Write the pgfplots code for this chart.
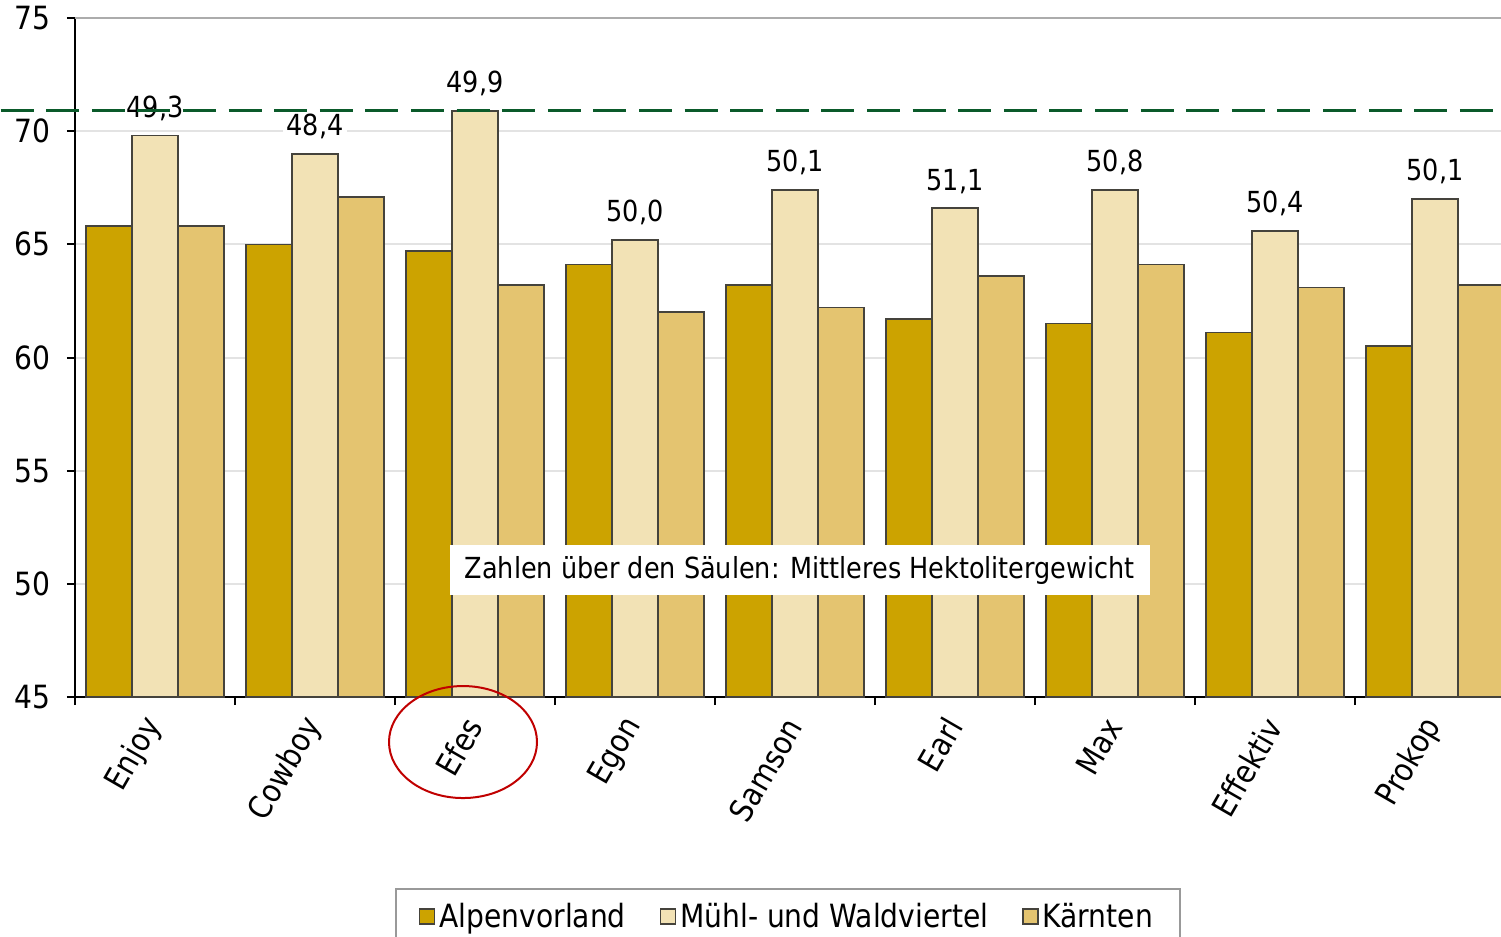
\documentclass[border=0pt]{standalone}
\usepackage{fontspec}
\setmainfont[FakeStretch=0.88]{DejaVu Sans}
\usepackage{pgfplots}
\pgfplotsset{compat=1.18}
\usepackage{pgfplotstable}

\definecolor{cA}{HTML}{CCA300}
\definecolor{cM}{HTML}{F2E2B5}
\definecolor{cK}{HTML}{E4C470}
\definecolor{edge}{HTML}{45433C}
\definecolor{dgreen}{HTML}{0A5A2A}
\definecolor{ringred}{HTML}{C00000}

\pgfplotstableread{
x A M K lab
0 65.8 69.8 65.8 49,3
1 65.0 69.0 67.1 48,4
2 64.7 70.9 63.2 49,9
3 64.1 65.2 62.0 50,0
4 63.2 67.4 62.2 50,1
5 61.7 66.6 63.6 51,1
6 61.5 67.4 64.1 50,8
7 61.1 65.6 63.1 50,4
8 60.5 67.0 63.2 50,1
}\data

\newcommand{\bigf}{\fontsize{16}{19}\selectfont}
\newcommand{\smallf}{\fontsize{14.5}{17}\selectfont}

\begin{document}
\begin{tikzpicture}
\begin{axis}[
  name=ax,
  scale only axis, width=713pt, height=339.5pt,
  xmin=-0.5, xmax=8.4125, ymin=45, ymax=75,
  ybar=0pt, bar width=23pt,
  axis x line*=bottom, axis y line*=left,
  axis line style={line width=1pt, black, -},
  /pgf/number format/assume math mode=true,
  xtick={0,...,8},
  xticklabels={Enjoy,Cowboy,Efes,Egon,Samson,Earl,Max,Effektiv,Prokop},
  minor xtick={-0.5,0.5,...,8.5},
  major x tick style={draw=none},
  minor x tick style={line width=1pt, black},
  ytick={45,50,...,70},
  extra y ticks={75},
  extra y tick style={grid style={line width=1pt, gray!65}},
  y tick style={line width=1pt, black},
  tick align=outside, major tick length=4pt, minor tick length=4pt,
  ymajorgrids, grid style={line width=1pt, gray!22},
  yticklabel style={font=\bigf, xshift=-5pt},
  xticklabel style={font=\bigf, rotate=60, anchor=east, xshift=-3.75pt, yshift=-3.5pt},
  clip mode=individual,
  legend style={at={(0.5,0)}, anchor=north, yshift=-95.5pt,
    legend columns=3, font=\bigf, draw=gray!80, line width=0.8pt,
    inner xsep=11.5pt, inner ysep=5pt,
    /tikz/every even column/.append style={column sep=15pt}},
  legend image code/.code={\draw[#1, line width=0.7pt] (0pt,-3.75pt) rectangle (7.5pt,3.75pt);},
]
\addplot[fill=cA, draw=edge, line width=0.75pt] table[x=x, y=A] {\data};
\addplot[fill=cM, draw=edge, line width=0.75pt,
  nodes near coords, point meta=explicit symbolic,
  every node near coord/.append style={fill=white, font=\smallf, inner sep=2pt, yshift=5pt, text=black}]
  table[x=x, y=M, meta=lab] {\data};
\addplot[fill=cK, draw=edge, line width=0.75pt] table[x=x, y=K] {\data};
\legend{Alpenvorland,Mühl- und Waldviertel,Kärnten}

\draw[dgreen, line width=1.7pt, dash pattern=on 16.5pt off 6.3pt] (axis cs:-0.965,70.9) -- (axis cs:8.5,70.9);
\node[fill=white, inner xsep=7.5pt, minimum height=25pt, font=\smallf] at (axis cs:4.03,50.61) {Zahlen über den Säulen: Mittleres Hektolitergewicht};
\draw[ringred, line width=1pt] (axis cs:1.925,43.01) ellipse [x radius=37pt, y radius=28pt];
\end{axis}
\pgfresetboundingbox
\useasboundingbox ([shift={(-37.5pt,-120pt)}]ax.south west) rectangle ([shift={(0pt,9pt)}]ax.north east);
\end{tikzpicture}
\end{document}
